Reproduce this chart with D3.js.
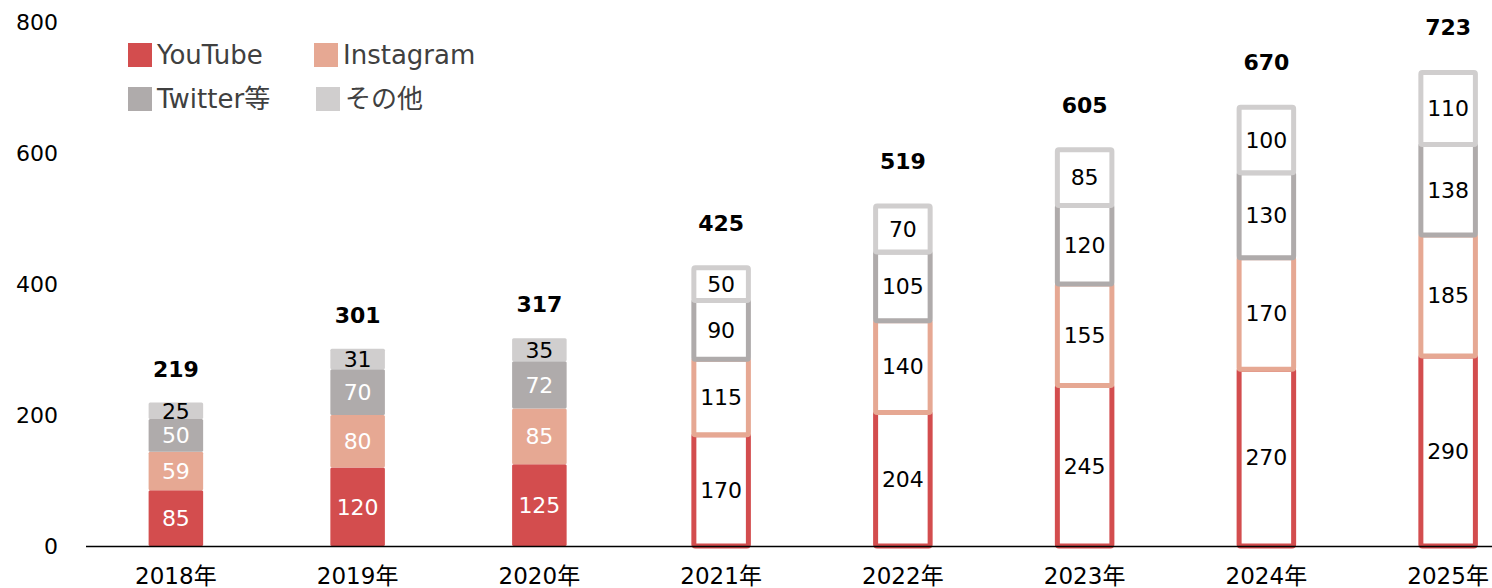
<!DOCTYPE html>
<html>
<head>
<meta charset="utf-8">
<script src="https://cdn.jsdelivr.net/npm/d3@7"></script>
<style>
  body { margin: 0; background: #fff; }
  text { font-family: "DejaVu Sans", "Noto Sans CJK JP", sans-serif; }
</style>
</head>
<body>
<script>
const width = 1492;
const height = 588;

// data
const years = ["2018年", "2019年", "2020年", "2021年", "2022年", "2023年", "2024年", "2025年"];
const seriesNames = ["YouTube", "Instagram", "Twitter等", "その他"];
const youtube = [85, 120, 125, 170, 204, 245, 270, 290];
const instagram = [59, 80, 85, 115, 140, 155, 170, 185];
const twitter = [50, 70, 72, 90, 105, 120, 130, 138];
const others = [25, 31, 35, 50, 70, 85, 100, 110];
const totals = [219, 301, 317, 425, 519, 605, 670, 723];
const forecastFrom = 3; // 2021年 onward drawn as outlines
const yTicks = [0, 200, 400, 600, 800];

const colors = ["#d34d4e", "#e6a893", "#afabab", "#d0cece"];

const rows = years.map((y, i) => ({
  year: y, i,
  YouTube: youtube[i], Instagram: instagram[i], "Twitter等": twitter[i], "その他": others[i]
}));
const stacked = d3.stack().keys(seriesNames)(rows);

const svg = d3.select("body").append("svg")
  .attr("width", width)
  .attr("height", height);

const x = d3.scaleBand()
  .domain(years)
  .range([85, 1539])
  .paddingInner(0.7)
  .paddingOuter(0.35);

const y = d3.scaleLinear()
  .domain([0, 800])
  .range([546, 22]);

// y axis labels (no line)
svg.append("g")
  .selectAll("text")
  .data(yTicks)
  .enter()
  .append("text")
  .attr("x", 58)
  .attr("y", d => y(d))
  .attr("dy", "0.36em")
  .attr("text-anchor", "end")
  .attr("font-size", 22)
  .attr("fill", "#000")
  .text(d => d);

// bars
const layer = svg.append("g")
  .selectAll("g")
  .data(stacked)
  .enter()
  .append("g");

layer.selectAll("rect")
  .data((s, k) => s.map(d => ({ d, k })))
  .enter()
  .append("rect")
  .attr("x", e => x(e.d.data.year))
  .attr("width", x.bandwidth())
  .attr("y", e => y(e.d[1]))
  .attr("height", e => y(e.d[0]) - y(e.d[1]))
  .attr("rx", 1.5)
  .attr("fill", e => e.d.data.i >= forecastFrom ? "#fff" : colors[e.k])
  .attr("stroke", e => e.d.data.i >= forecastFrom ? colors[e.k] : "none")
  .attr("stroke-width", 5)
  .attr("stroke-linejoin", "round");

// segment labels
layer.selectAll("text")
  .data((s, k) => s.map(d => ({ d, k })))
  .enter()
  .append("text")
  .attr("x", e => x(e.d.data.year) + x.bandwidth() / 2)
  .attr("y", e => (y(e.d[0]) + y(e.d[1])) / 2)
  .attr("dy", "0.36em")
  .attr("text-anchor", "middle")
  .attr("font-size", 22)
  .attr("fill", e => (e.d.data.i < forecastFrom && e.k < 3) ? "#fff" : "#000")
  .text(e => e.d[1] - e.d[0]);

// totals
svg.append("g")
  .selectAll("text")
  .data(rows)
  .enter()
  .append("text")
  .attr("x", d => x(d.year) + x.bandwidth() / 2)
  .attr("y", d => y(totals[d.i]) - (d.i >= forecastFrom ? 37 : 26))
  .attr("text-anchor", "middle")
  .attr("font-size", 22)
  .attr("font-weight", "bold")
  .attr("fill", "#000")
  .text(d => totals[d.i]);

// baseline
svg.append("line")
  .attr("x1", 86)
  .attr("x2", width)
  .attr("y1", y(0) + 0.5)
  .attr("y2", y(0) + 0.5)
  .attr("stroke", "#000")
  .attr("stroke-width", 1.3);

// x labels
svg.append("g")
  .selectAll("text")
  .data(years)
  .enter()
  .append("text")
  .attr("x", d => x(d) + x.bandwidth() / 2)
  .attr("y", 576)
  .attr("dy", "0.36em")
  .attr("text-anchor", "middle")
  .attr("font-size", 23)
  .attr("fill", "#000")
  .text(d => d);

// legend
const legendPos = [[128, 55], [314, 55], [128, 99], [316, 99]];
const legend = svg.append("g")
  .selectAll("g")
  .data(seriesNames)
  .enter()
  .append("g")
  .attr("transform", (d, i) => `translate(${legendPos[i][0]},${legendPos[i][1]})`);

legend.append("rect")
  .attr("x", 0)
  .attr("y", -12)
  .attr("width", 24)
  .attr("height", 24)
  .attr("fill", (d, i) => colors[i]);

legend.append("text")
  .attr("x", 29)
  .attr("y", 0)
  .attr("dy", "0.36em")
  .attr("font-size", 26)
  .attr("fill", "#404040")
  .text(d => d);
</script>
</body>
</html>
